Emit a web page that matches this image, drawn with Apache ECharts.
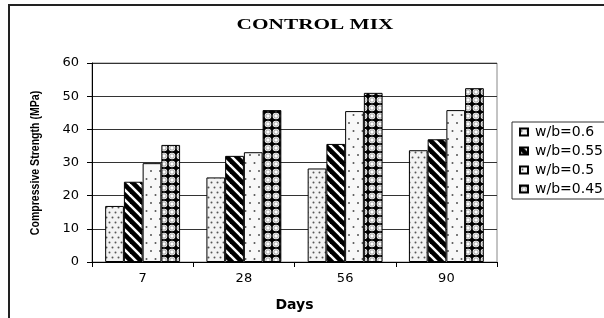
<!DOCTYPE html>
<html>
<head>
<meta charset="utf-8">
<script src="https://cdn.jsdelivr.net/npm/echarts@6/dist/echarts.min.js"></script>
<style>
  html, body { margin: 0; padding: 0; background: #fff; overflow: hidden; }
  #chart { width: 604px; height: 318px; }
</style>
</head>
<body>
<div id="chart"></div>
<script>
const days = ['7', '28', '56', '90']
const seriesNames = ['w/b=0.6', 'w/b=0.55', 'w/b=0.5', 'w/b=0.45']
const wb060 = [16.9, 25.5, 28.2, 33.7]
const wb055 = [24.2, 32.0, 35.6, 37.0]
const wb050 = [29.8, 33.1, 45.5, 45.8]
const wb045 = [35.3, 45.8, 51.0, 52.4]

// small canvas tiles used as bar fills
const makeTile = (w, h, draw) => {
  const c = document.createElement('canvas')
  c.width = w
  c.height = h
  draw(c.getContext('2d'), w, h)
  return { image: c, repeat: 'repeat' }
}
const dot = (ctx, x, y, r) => {
  ctx.beginPath()
  ctx.arc(x, y, r, 0, Math.PI * 2)
  ctx.fill()
}

const densDots = makeTile(6, 10, (ctx, w, h) => {
  ctx.fillStyle = '#f3f3f3'
  ctx.fillRect(0, 0, w, h)
  ctx.fillStyle = '#555'
  dot(ctx, 1.5, 2.5, 1)
  dot(ctx, 4.5, 7.5, 1)
})
const stripes = makeTile(10, 10, (ctx, w, h) => {
  ctx.fillStyle = '#fff'
  ctx.fillRect(0, 0, w, h)
  ctx.strokeStyle = '#000'
  ctx.lineWidth = 4.6
  for (let k = -2; k <= 2; k++) {
    ctx.beginPath()
    ctx.moveTo(-10, -10 + k * 10)
    ctx.lineTo(20, 20 + k * 10)
    ctx.stroke()
  }
})
const sparseDots = makeTile(9, 16, (ctx, w, h) => {
  ctx.fillStyle = '#f8f8f8'
  ctx.fillRect(0, 0, w, h)
  ctx.fillStyle = '#555'
  dot(ctx, 2.5, 3, 1)
  dot(ctx, 7, 11, 1)
})
const circles = makeTile(8, 8, (ctx, w, h) => {
  ctx.fillStyle = '#000'
  ctx.fillRect(0, 0, w, h)
  ctx.fillStyle = '#fff'
  dot(ctx, 4, 4, 3.3)
  ctx.strokeStyle = '#888'
  ctx.lineWidth = 0.8
  ctx.beginPath()
  ctx.arc(4, 4, 2.2, 0, Math.PI * 2)
  ctx.stroke()
})

const fills = [densDots, stripes, sparseDots, circles]
const values = [wb060, wb055, wb050, wb045]

const myChart = echarts.init(document.getElementById('chart'), null, { renderer: 'canvas' })

const option = {
  animation: false,
  textStyle: { fontFamily: 'DejaVu Sans' },
  grid: {
    left: 92,
    right: 107,
    top: 63,
    bottom: 56,
    show: true,
    borderColor: '#888',
    borderWidth: 1,
    backgroundColor: 'transparent',
  },
  graphic: [
    {
      // outer chart frame (cropped on the right and bottom)
      type: 'polyline',
      shape: { points: [[9, 330], [9, 5], [606, 5]] },
      style: { stroke: '#222', lineWidth: 2, fill: 'none' },
    },
    {
      type: 'text',
      x: 315,
      y: 25,
      scaleX: 1.42,
      style: {
        text: 'CONTROL MIX',
        font: 'bold 15px "Liberation Serif"',
        fill: '#000',
        textAlign: 'center',
        textVerticalAlign: 'middle',
      },
    },
    {
      type: 'text',
      x: 36,
      y: 163,
      rotation: Math.PI / 2,
      scaleX: 0.88,
      style: {
        text: 'Compressive Strength (MPa)',
        font: 'bold 12px "Liberation Sans"',
        fill: '#000',
        textAlign: 'center',
        textVerticalAlign: 'middle',
      },
    },
  ],
  legend: {
    orient: 'vertical',
    left: 512,
    top: 122,
    padding: [3, 40, 3, 7],
    itemGap: 5,
    itemWidth: 8,
    itemHeight: 7,
    icon: 'rect',
    borderColor: '#333',
    borderWidth: 1,
    data: seriesNames,
    textStyle: { fontFamily: 'DejaVu Sans', fontSize: 14, color: '#000', lineHeight: 14, padding: [0, 0, 0, 2] },
  },
  xAxis: {
    type: 'category',
    data: days,
    name: 'Days',
    nameLocation: 'middle',
    nameGap: 36,
    nameTextStyle: { fontFamily: 'DejaVu Sans', fontWeight: 'bold', fontSize: 14, color: '#000' },
    axisLine: { lineStyle: { color: '#000', width: 1 } },
    axisTick: { show: true, length: 5, lineStyle: { color: '#000' } },
    axisLabel: { color: '#000', fontSize: 13, margin: 10 },
  },
  yAxis: {
    type: 'value',
    min: 0,
    max: 60,
    interval: 10,
    axisLine: { show: true, lineStyle: { color: '#000', width: 1 } },
    axisTick: { show: true, length: 5, lineStyle: { color: '#000' } },
    axisLabel: { color: '#000', fontSize: 13, margin: 13 },
    splitLine: { lineStyle: { color: '#333', width: 1 } },
  },
  series: seriesNames.map((name, i) => ({
    name: name,
    type: 'bar',
    barGap: '0%',
    barCategoryGap: '26%',
    itemStyle: { color: fills[i], borderColor: '#000', borderWidth: 1 },
    data: values[i],
  })),
}

myChart.setOption(option)
</script>
</body>
</html>
